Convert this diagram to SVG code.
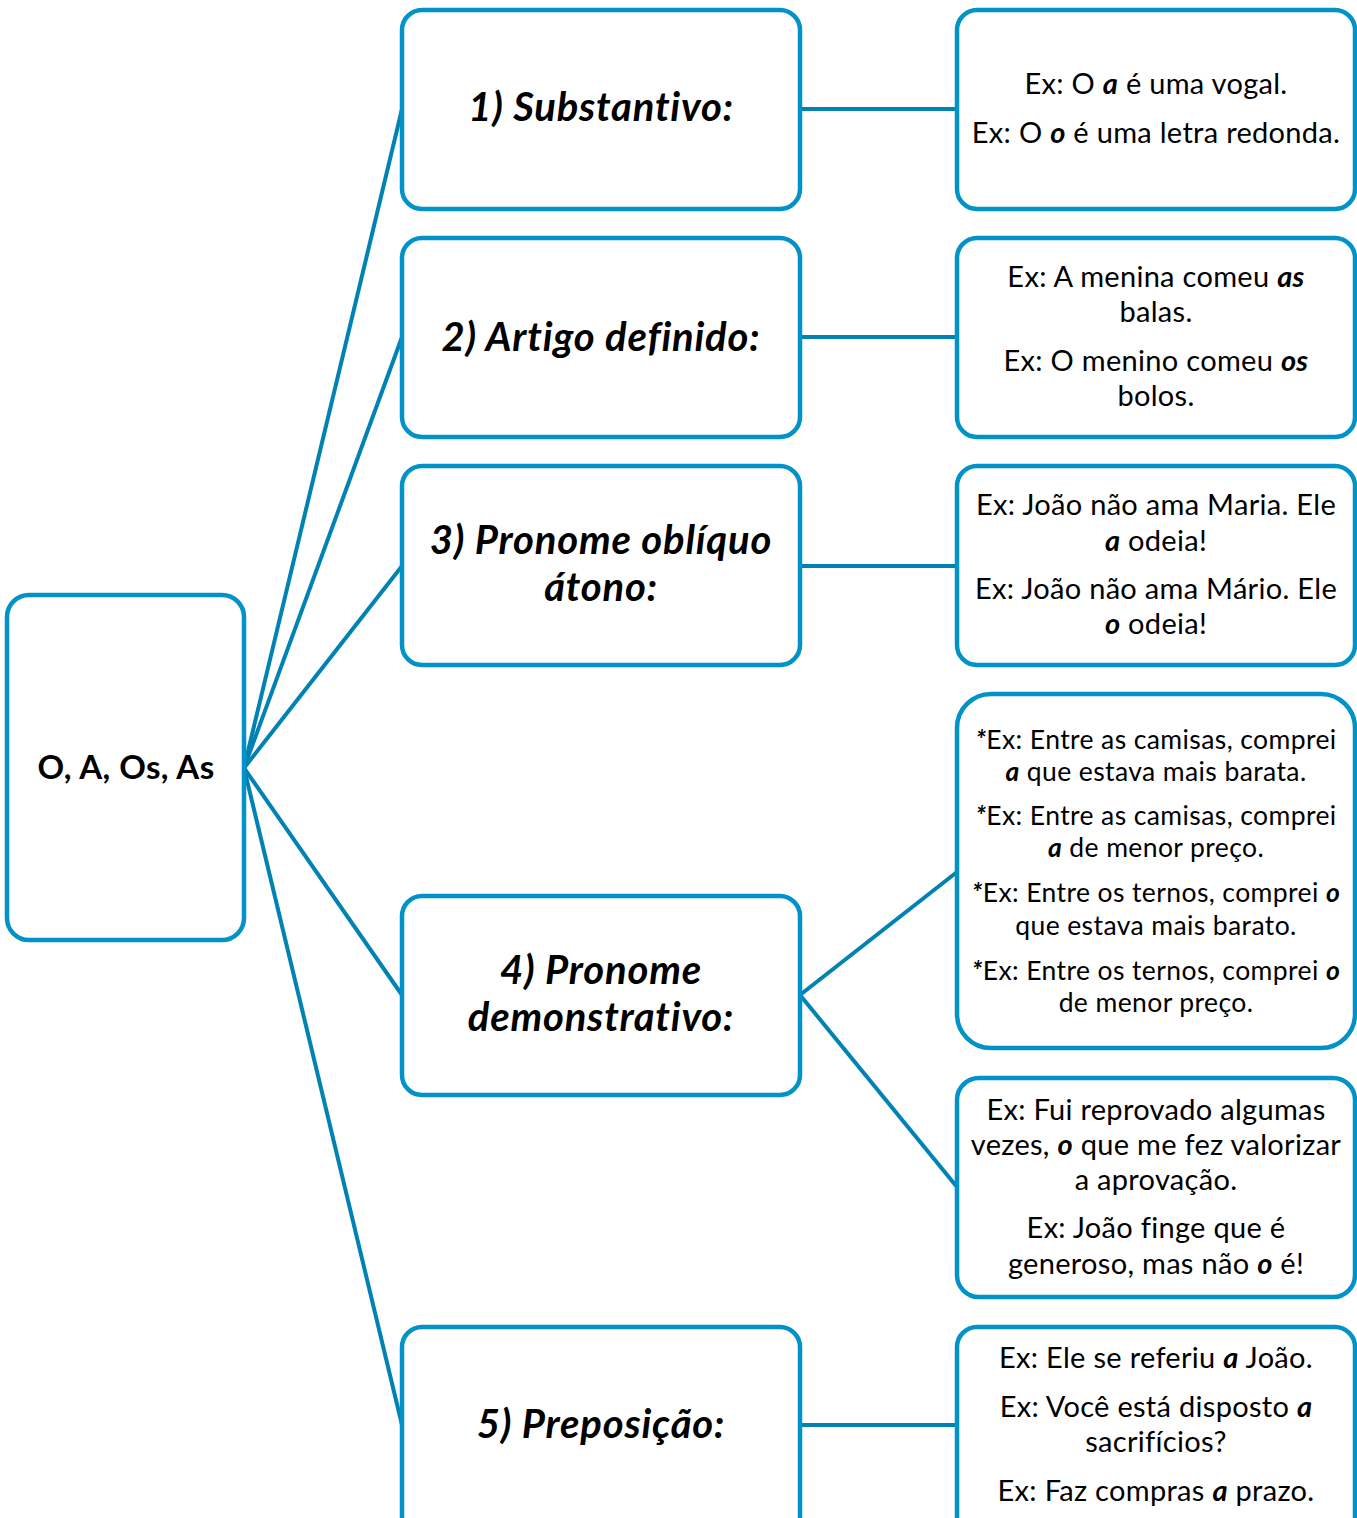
<svg xmlns="http://www.w3.org/2000/svg" width="1357" height="1518" viewBox="0 0 1357 1518">
<style>
.box{fill:#fff;stroke:#0092C8;stroke-width:4.5}
.ln{stroke:#0082B4;stroke-width:4;fill:none}
.t{font-family:Lato,"Open Sans",sans-serif;font-size:29px;letter-spacing:0.3px;fill:#000;text-anchor:middle}
.s{font-size:26.5px;letter-spacing:0.4px}
.h{font-family:Lato,"Open Sans",sans-serif;font-size:40px;letter-spacing:0.8px;font-weight:bold;font-style:italic;fill:#000;text-anchor:middle}
.r{font-family:Lato,"Open Sans",sans-serif;font-size:33px;letter-spacing:0.4px;font-weight:bold;fill:#000;text-anchor:middle}
.b{font-weight:bold;font-style:italic}
</style>
<g id="connectors">
<line class="ln" x1="244" y1="768" x2="402" y2="109"/>
<line class="ln" x1="244" y1="768" x2="402" y2="337"/>
<line class="ln" x1="244" y1="768" x2="402" y2="566"/>
<line class="ln" x1="244" y1="768" x2="402" y2="995"/>
<line class="ln" x1="244" y1="768" x2="402" y2="1425"/>
<line class="ln" x1="800" y1="109" x2="957" y2="109"/>
<line class="ln" x1="800" y1="337" x2="957" y2="337"/>
<line class="ln" x1="800" y1="566" x2="957" y2="566"/>
<line class="ln" x1="800" y1="995" x2="957" y2="872"/>
<line class="ln" x1="800" y1="995" x2="957" y2="1187"/>
<line class="ln" x1="800" y1="1425" x2="957" y2="1425"/>
</g>
<g id="root">
<rect class="box" x="7" y="595" width="237" height="345" rx="22"/>
<text class="r" x="126" y="779">O, A, Os, As</text>
</g>
<g id="n1">
<rect class="box" x="402" y="10" width="398" height="199" rx="20"/>
<text class="h" x="601" y="121">1) Substantivo:</text>
</g>
<g id="n2">
<rect class="box" x="402" y="238" width="398" height="199" rx="20"/>
<text class="h" x="601" y="351">2) Artigo definido:</text>
</g>
<g id="n3">
<rect class="box" x="402" y="466" width="398" height="199" rx="20"/>
<text class="h" x="601" y="554">3) Pronome oblíquo</text>
<text class="h" x="601" y="601">átono:</text>
</g>
<g id="n4">
<rect class="box" x="402" y="896" width="398" height="199" rx="20"/>
<text class="h" x="601" y="984">4) Pronome</text>
<text class="h" x="601" y="1031">demonstrativo:</text>
</g>
<g id="n5">
<rect class="box" x="402" y="1327" width="398" height="210" rx="20"/>
<text class="h" x="601" y="1438">5) Preposição:</text>
</g>
<g id="e1">
<rect class="box" x="957" y="10" width="398" height="199" rx="20"/>
<text class="t" x="1156" y="94">Ex: O <tspan class="b">a</tspan> é uma vogal.</text>
<text class="t" x="1156" y="143">Ex: O <tspan class="b">o</tspan> é uma letra redonda.</text>
</g>
<g id="e2">
<rect class="box" x="957" y="238" width="398" height="199" rx="20"/>
<text class="t" x="1156" y="287">Ex: A menina comeu <tspan class="b">as</tspan></text>
<text class="t" x="1156" y="322">balas.</text>
<text class="t" x="1156" y="371">Ex: O menino comeu <tspan class="b">os</tspan></text>
<text class="t" x="1156" y="406">bolos.</text>
</g>
<g id="e3">
<rect class="box" x="957" y="466" width="398" height="199" rx="20"/>
<text class="t" x="1156" y="515">Ex: João não ama Maria. Ele</text>
<text class="t" x="1156" y="551"><tspan class="b">a</tspan> odeia!</text>
<text class="t" x="1156" y="599">Ex: João não ama Mário. Ele</text>
<text class="t" x="1156" y="634"><tspan class="b">o</tspan> odeia!</text>
</g>
<g id="e4">
<rect class="box" x="957" y="694" width="398" height="354" rx="34"/>
<text class="t s" x="1156" y="749"><tspan class="b">*</tspan>Ex: Entre as camisas, comprei</text>
<text class="t s" x="1156" y="781"><tspan class="b">a</tspan> que estava mais barata.</text>
<text class="t s" x="1156" y="825"><tspan class="b">*</tspan>Ex: Entre as camisas, comprei</text>
<text class="t s" x="1156" y="857"><tspan class="b">a</tspan> de menor preço.</text>
<text class="t s" x="1156" y="902"><tspan class="b">*</tspan>Ex: Entre os ternos, comprei <tspan class="b">o</tspan></text>
<text class="t s" x="1156" y="935">que estava mais barato.</text>
<text class="t s" x="1156" y="980"><tspan class="b">*</tspan>Ex: Entre os ternos, comprei <tspan class="b">o</tspan></text>
<text class="t s" x="1156" y="1012">de menor preço.</text>
</g>
<g id="e5">
<rect class="box" x="957" y="1078" width="398" height="219" rx="22"/>
<text class="t" x="1156" y="1120">Ex: Fui reprovado algumas</text>
<text class="t" x="1156" y="1155">vezes, <tspan class="b">o</tspan> que me fez valorizar</text>
<text class="t" x="1156" y="1190">a aprovação.</text>
<text class="t" x="1156" y="1238">Ex: João finge que é</text>
<text class="t" x="1156" y="1274">generoso, mas não <tspan class="b">o</tspan> é!</text>
</g>
<g id="e6">
<rect class="box" x="957" y="1327" width="398" height="210" rx="20"/>
<text class="t" x="1156" y="1368">Ex: Ele se referiu <tspan class="b">a</tspan> João.</text>
<text class="t" x="1156" y="1417">Ex: Você está disposto <tspan class="b">a</tspan></text>
<text class="t" x="1156" y="1452">sacrifícios?</text>
<text class="t" x="1156" y="1501">Ex: Faz compras <tspan class="b">a</tspan> prazo.</text>
</g>
</svg>
